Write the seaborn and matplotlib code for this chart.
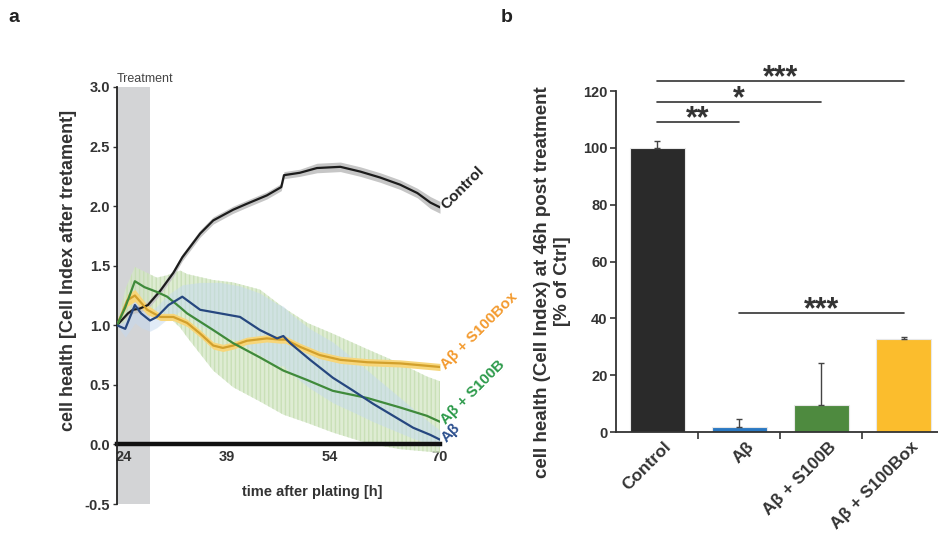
import numpy as np
import pandas as pd
import matplotlib
matplotlib.use("Agg")
import matplotlib.pyplot as plt
import matplotlib.transforms as mtransforms
import seaborn as sns

# ---------------- panel a: real-time cell index (normalised at treatment) ----------------
t_control = [23.0, 24.6, 25.3, 26.3, 27.5, 29.3, 31.2, 32.5, 35.1, 37.0, 39.9, 41.9, 44.8,
             46.9, 47.3, 49.6, 52.1, 55.5, 58.4, 61.3, 64.2, 66.7, 68.6, 70.0]
ci_control = [1.00, 1.10, 1.13, 1.14, 1.17, 1.29, 1.44, 1.57, 1.77, 1.88, 1.97, 2.02, 2.09,
              2.16, 2.26, 2.28, 2.32, 2.33, 2.29, 2.24, 2.18, 2.11, 2.03, 1.99]
sd_control = [0.0, 0.02, 0.03, 0.03, 0.03, 0.03, 0.03, 0.03, 0.03, 0.03, 0.03, 0.03, 0.03,
              0.03, 0.03, 0.03, 0.04, 0.04, 0.04, 0.04, 0.04, 0.04, 0.05, 0.05]

t_abeta = [23.0, 24.2, 25.6, 26.5, 27.8, 28.8, 30.5, 32.5, 35.1, 38.0, 40.9, 43.8, 46.3,
           47.2, 48.2, 51.1, 54.4, 57.4, 60.3, 63.2, 66.1, 68.6, 70.0]
ci_abeta = [1.00, 0.97, 1.17, 1.10, 1.04, 1.07, 1.17, 1.24, 1.13, 1.10, 1.07, 0.96, 0.89,
            0.91, 0.85, 0.71, 0.56, 0.45, 0.34, 0.24, 0.14, 0.08, 0.04]
lo_abeta = [1.00, 0.90, 1.02, 0.98, 0.95, 0.98, 1.06, 1.13, 1.00, 0.92, 0.86, 0.75, 0.66,
            0.66, 0.60, 0.47, 0.35, 0.27, 0.19, 0.12, 0.05, 0.00, -0.02]
hi_abeta = [1.00, 1.04, 1.22, 1.17, 1.12, 1.16, 1.26, 1.34, 1.36, 1.36, 1.33, 1.27, 1.18,
            1.16, 1.10, 0.97, 0.86, 0.72, 0.58, 0.44, 0.30, 0.18, 0.12]

t_s100b = [23.0, 24.2, 25.6, 27.0, 28.8, 30.3, 32.2, 33.2, 37.0, 39.9, 43.8, 47.2, 50.7,
           54.4, 59.4, 64.2, 68.1, 70.0]
ci_s100b = [1.00, 1.15, 1.37, 1.32, 1.28, 1.24, 1.15, 1.10, 0.96, 0.85, 0.73, 0.62, 0.54,
            0.45, 0.39, 0.31, 0.24, 0.19]
lo_s100b = [1.00, 1.02, 1.22, 1.15, 1.12, 1.08, 0.98, 0.90, 0.62, 0.48, 0.36, 0.25, 0.18,
            0.10, 0.01, -0.04, -0.06, -0.07]
hi_s100b = [1.00, 1.30, 1.49, 1.45, 1.40, 1.42, 1.46, 1.43, 1.38, 1.36, 1.30, 1.15, 1.02,
            0.93, 0.80, 0.68, 0.57, 0.53]

t_s100box = [23.0, 24.5, 25.6, 27.4, 29.3, 31.2, 33.2, 35.1, 37.0, 38.4, 39.9, 41.9, 44.8,
             46.7, 47.5, 49.6, 52.5, 55.5, 59.4, 64.2, 68.1, 70.0]
ci_s100box = [1.00, 1.21, 1.25, 1.13, 1.07, 1.07, 1.02, 0.93, 0.83, 0.81, 0.83, 0.87, 0.89,
              0.88, 0.88, 0.82, 0.75, 0.71, 0.69, 0.68, 0.66, 0.65]
sd_s100box = [0.0, 0.05, 0.05, 0.04, 0.03, 0.03, 0.03, 0.03, 0.03, 0.03, 0.03, 0.03, 0.03,
              0.03, 0.03, 0.03, 0.03, 0.03, 0.03, 0.03, 0.03, 0.03]

treatment_window = (23.0, 27.8)
time_ticks = [24, 39, 54, 70]

# ---------------- panel b: cell index at 46 h post treatment ----------------
groups = ["Control", "Aβ", "Aβ + S100B", "Aβ + S100Box"]
pct_ctrl = [100.0, 1.8, 9.6, 32.8]
pct_sem = [2.5, 2.8, 14.6, 0.5]
comparisons = [(0, 1, "**", 109.2), (0, 2, "*", 116.2), (0, 3, "***", 123.6), (1, 3, "***", 41.9)]

# ---------------- style ----------------
sns.set_theme(style="ticks")
plt.rcParams["font.family"] = ["Liberation Sans", "DejaVu Sans"]
plt.rcParams["font.weight"] = "bold"
plt.rcParams["axes.labelweight"] = "bold"
TXT = "#333333"

line_colors = {"Control": "#1c1c1c", "Aβ": "#26477f",
               "Aβ + S100B": "#3f8a3b", "Aβ + S100Box": "#d2a02c"}
label_colors = {"Control": "#222222", "Aβ": "#2b4f8e",
                "Aβ + S100B": "#2c9a4a", "Aβ + S100Box": "#f39a2e"}
bar_colors = ["#2a2a2a", "#2a78c2", "#4e8a3f", "#fbbd2d"]

fig = plt.figure(figsize=(9.38, 5.35), dpi=100)
axa = fig.add_axes([117 / 938, 1 - 504 / 535, 323 / 938, 417 / 535])
axb = fig.add_axes([616 / 938, 1 - 432 / 535, 322 / 938, 358 / 535])

# ---- panel a ----
axa.axvspan(*treatment_window, color="#d3d4d6", lw=0, zorder=0)
axa.fill_between(t_s100b, lo_s100b, hi_s100b, facecolor="#d6e8c8", edgecolor="#c4ddb0",
                 hatch="||||", alpha=0.8, lw=0, zorder=1)
axa.fill_between(t_abeta, lo_abeta, hi_abeta, color="#c4d9f1", alpha=0.5, lw=0, zorder=1)
axa.fill_between(t_control, np.array(ci_control) - np.array(sd_control),
                 np.array(ci_control) + np.array(sd_control), color="#c6c6c6", lw=0, zorder=1)
axa.fill_between(t_s100box, np.array(ci_s100box) - np.array(sd_s100box),
                 np.array(ci_s100box) + np.array(sd_s100box), color="#f7d67a", lw=0, zorder=1)

series = [("Control", t_control, ci_control), ("Aβ + S100Box", t_s100box, ci_s100box),
          ("Aβ + S100B", t_s100b, ci_s100b), ("Aβ", t_abeta, ci_abeta)]
long = pd.concat([pd.DataFrame({"time": t, "ci": v, "condition": name}) for name, t, v in series],
                 ignore_index=True)
sns.lineplot(data=long, x="time", y="ci", hue="condition", palette=line_colors,
             estimator=None, sort=False, legend=False, linewidth=1.6, ax=axa, zorder=3)

for name, t, v in series:
    axa.text(t[-1] + 0.5, v[-1], name, rotation=45, rotation_mode="anchor",
             ha="left", va="center", fontsize=11, color=label_colors[name])

axa.set_xlim(23.0, 70.0)
axa.set_ylim(-0.5, 3.0)
axa.set_yticks(np.arange(-0.5, 3.01, 0.5))
axa.set_yticklabels([f"{y:.1f}" for y in np.arange(-0.5, 3.01, 0.5)])
axa.set_xticks(time_ticks)
sns.despine(ax=axa)
axa.spines["bottom"].set_position(("data", 0))
axa.spines["bottom"].set_linewidth(3.2)
axa.spines["bottom"].set_color("#111111")
axa.spines["bottom"].set_zorder(2)
axa.spines["left"].set_linewidth(1.3)
axa.spines["left"].set_color("#222222")
axa.tick_params(axis="y", length=3, width=1, labelsize=10.5, colors=TXT, pad=2)
axa.tick_params(axis="x", length=0, labelsize=10.5, colors=TXT, pad=4)
axa.set_xlabel("time after plating [h]", fontsize=10.5, color=TXT)
axa.xaxis.set_label_coords(0.604, 0.045)
axa.set_ylabel("cell health [Cell Index after tretament]", fontsize=13, color=TXT)
axa.yaxis.set_label_coords(-0.125, 0.56)
axa.text(treatment_window[0], 3.02, "Treatment", fontsize=9, fontweight="normal",
         color="#444444", ha="left", va="bottom", transform=axa.transData)

# ---- panel b ----
sns.barplot(x=groups, y=pct_ctrl, hue=groups, palette=bar_colors, legend=False, saturation=1,
            errorbar=None, width=0.67, edgecolor="#e8e8e8", linewidth=0.8, ax=axb, zorder=2)
axb.errorbar(np.arange(len(groups)), pct_ctrl, yerr=[np.zeros(len(groups)), pct_sem],
             fmt="none", ecolor="#444444", elinewidth=1.0, capsize=2, capthick=1.0, zorder=3)

for i, j, stars, h in comparisons:
    axb.plot([i, j], [h, h], color="#333333", lw=1.2, clip_on=False, zorder=4)
    axb.text((i + j) / 2, h - 1.8, stars, ha="center", va="baseline", fontsize=22,
             color="#333333", clip_on=False)

axb.set_xlim(-0.5, 3.42)
axb.set_ylim(0, 126)
axb.set_yticks(np.arange(0, 121, 20))
sns.despine(ax=axb)
axb.spines["left"].set_bounds(0, 120)
for s in ("left", "bottom"):
    axb.spines[s].set_linewidth(1.3)
    axb.spines[s].set_color("#333333")
axb.set_xticks([0.5, 1.5, 2.5], minor=True)
axb.tick_params(axis="x", which="minor", length=5, width=1.2, color="#333333")
axb.tick_params(axis="x", which="major", length=0, labelsize=12.5, colors=TXT, pad=9)
axb.tick_params(axis="y", length=4, width=1.2, labelsize=10.5, colors=TXT, pad=2)
offset = mtransforms.ScaledTranslation(12 / 100, 0, fig.dpi_scale_trans)
for lbl in axb.get_xticklabels():
    lbl.set_rotation(45)
    lbl.set_rotation_mode("anchor")
    lbl.set_ha("right")
    lbl.set_va("center")
    lbl.set_transform(lbl.get_transform() + offset)
axb.set_xlabel("")
axb.set_ylabel("cell health (Cell Index) at 46h post treatment\n[% of Ctrl]",
               fontsize=13.5, color=TXT, linespacing=1.2)
axb.yaxis.set_label_coords(-0.14, 0.42)

fig.text(14 / 938, 1 - 18 / 535, "a", fontsize=14, ha="center", va="center", color="#222222")
fig.text(507 / 938, 1 - 18 / 535, "b", fontsize=14, ha="center", va="center", color="#222222")

fig.savefig("out.png", dpi=100)
